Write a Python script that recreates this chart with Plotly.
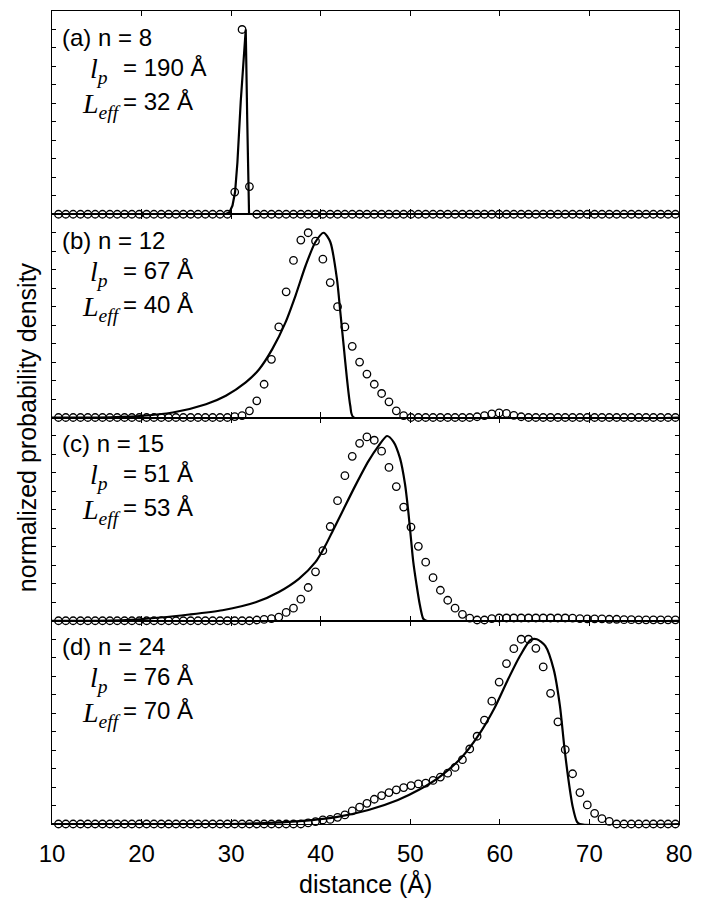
import plotly.graph_objects as go
from plotly.subplots import make_subplots

# ---------------- data ----------------
distance = [9.90, 10.72, 11.54, 12.36, 13.18, 14.00, 14.82, 15.64, 16.46, 17.28,
            18.10, 18.92, 19.74, 20.56, 21.38, 22.20, 23.02, 23.84, 24.66, 25.48,
            26.30, 27.12, 27.94, 28.76, 29.58, 30.40, 31.22, 32.04, 32.86, 33.68,
            34.50, 35.32, 36.14, 36.96, 37.78, 38.60, 39.42, 40.24, 41.06, 41.88,
            42.70, 43.52, 44.34, 45.16, 45.98, 46.80, 47.62, 48.44, 49.26, 50.08,
            50.90, 51.72, 52.54, 53.36, 54.18, 55.00, 55.82, 56.64, 57.46, 58.28,
            59.10, 59.92, 60.74, 61.56, 62.38, 63.20, 64.02, 64.84, 65.66, 66.48,
            67.30, 68.12, 68.94, 69.76, 70.58, 71.40, 72.22, 73.04, 73.86, 74.68,
            75.50, 76.32, 77.14, 77.96, 78.78, 79.60]

sim_a = [0, 0, 0, 0, 0, 0, 0, 0, 0, 0,
         0, 0, 0, 0, 0, 0, 0, 0, 0, 0,
         0, 0, 0, 0, 0, 0.12, 1.0, 0.15, 0, 0,
         0, 0, 0, 0, 0, 0, 0, 0, 0, 0,
         0, 0, 0, 0, 0, 0, 0, 0, 0, 0,
         0, 0, 0, 0, 0, 0, 0, 0, 0, 0,
         0, 0, 0, 0, 0, 0, 0, 0, 0, 0,
         0, 0, 0, 0, 0, 0, 0, 0, 0, 0,
         0, 0, 0, 0, 0, 0]

sim_b = [0, 0, 0, 0, 0, 0, 0, 0, 0, 0,
         0, 0, 0, 0, 0, 0, 0, 0, 0, 0,
         0, 0, 0, 0, 0, 0.005, 0.01, 0.036, 0.09, 0.18,
         0.315, 0.49, 0.68, 0.85, 0.96, 1.0, 0.955, 0.857, 0.73, 0.60,
         0.49, 0.385, 0.30, 0.235, 0.18, 0.13, 0.085, 0.036, 0.01, 0,
         0, 0, 0, 0, 0, 0, 0, 0, 0.004, 0.01,
         0.02, 0.025, 0.022, 0.012, 0.004, 0, 0, 0, 0, 0,
         0, 0, 0, 0, 0, 0, 0, 0, 0, 0,
         0, 0, 0, 0, 0, 0]

sim_c = [0, 0, 0, 0, 0, 0, 0, 0, 0, 0,
         0, 0, 0, 0, 0, 0, 0, 0, 0, 0,
         0, 0, 0, 0, 0, 0, 0, 0, 0.004, 0.007,
         0.012, 0.02, 0.045, 0.068, 0.117, 0.18, 0.265, 0.38, 0.51, 0.65,
         0.785, 0.89, 0.96, 0.995, 0.977, 0.918, 0.83, 0.726, 0.615, 0.507,
         0.403, 0.317, 0.233, 0.165, 0.111, 0.068, 0.035, 0.014, 0.004, 0.004,
         0.012, 0.015, 0.015, 0.015, 0.015, 0.015, 0.015, 0.015, 0.015, 0.015,
         0.015, 0.014, 0.012, 0.01, 0.01, 0.01, 0.008, 0.008, 0.006, 0.006,
         0.005, 0.005, 0.005, 0.005, 0.005, 0.005]

sim_d = [0, 0, 0, 0, 0, 0, 0, 0, 0, 0,
         0, 0, 0, 0, 0, 0, 0, 0, 0, 0,
         0, 0, 0, 0, 0, 0, 0, 0, 0, 0,
         0, 0, 0, 0, 0, 0.006, 0.013, 0.022, 0.025, 0.036,
         0.049, 0.071, 0.091, 0.112, 0.134, 0.154, 0.170, 0.185, 0.197, 0.208,
         0.217, 0.221, 0.236, 0.254, 0.275, 0.306, 0.348, 0.406, 0.475, 0.562,
         0.665, 0.768, 0.868, 0.949, 1.0, 1.0, 0.951, 0.85, 0.707, 0.553,
         0.402, 0.272, 0.170, 0.103, 0.058, 0.029, 0.014, 0, 0, 0,
         0, 0, 0, 0, 0, 0]

model_a_x = [10, 29.3, 29.8, 30.15, 30.44, 30.7, 31.07, 31.44, 31.63, 31.8, 32.0, 80]
model_a_y = [0, 0, 0.01, 0.047, 0.12, 0.28, 0.61, 0.88, 1.0, 0.5, 0, 0]

model_b_x = [10, 15, 19.78, 23.48, 27.19, 29.41, 31.63, 33.11, 34.59, 36.07, 37.19,
             38.3, 39.41, 40.33, 41.07, 41.81, 42.19, 42.56, 42.93, 43.3, 43.67, 80]
model_b_y = [0, 0, 0.008, 0.027, 0.072, 0.118, 0.19, 0.26, 0.37, 0.515, 0.66,
             0.82, 0.95, 1.0, 0.95, 0.75, 0.57, 0.39, 0.21, 0.064, 0, 0]

model_c_x = [10, 15, 19.78, 25.33, 29.04, 32.74, 35.33, 37.56, 39.41, 40.52, 41.26,
             42.37, 43.85, 45.33, 46.44, 47.4, 48.11, 48.85, 49.41, 49.78, 50.07,
             50.33, 50.7, 51.07, 51.44, 51.8, 80]
model_c_y = [0, 0, 0.008, 0.034, 0.057, 0.10, 0.156, 0.227, 0.317, 0.407, 0.478,
             0.586, 0.73, 0.864, 0.945, 1.0, 0.97, 0.88, 0.74, 0.59, 0.447,
             0.32, 0.194, 0.085, 0.012, 0, 0]

model_d_x = [10, 29.8, 33.0, 36.87, 41.57, 45.33, 48.62, 50.97, 53.32, 55.67, 57.55,
             59.42, 60.83, 62.24, 63.42, 64.13, 65.07, 66.01, 66.71, 67.19, 67.66,
             68.13, 68.6, 68.92, 80]
model_d_y = [0, 0, 0.004, 0.013, 0.036, 0.076, 0.13, 0.185, 0.257, 0.357, 0.475,
             0.629, 0.774, 0.909, 0.996, 1.0, 0.964, 0.837, 0.638, 0.42, 0.239,
             0.094, 0.013, 0, 0]

panel_tags = ["(a) n = 8", "(b) n = 12", "(c) n = 15", "(d) n = 24"]
lp_values = ["190 Å", "67 Å", "51 Å", "76 Å"]
leff_values = ["32 Å", "40 Å", "53 Å", "70 Å"]
x_ticks = [10, 20, 30, 40, 50, 60, 70, 80]

sims = [sim_a, sim_b, sim_c, sim_d]
models = [(model_a_x, model_a_y), (model_b_x, model_b_y),
          (model_c_x, model_c_y), (model_d_x, model_d_y)]
shapes_kind = ["linear", "spline", "spline", "spline"]

# ---------------- figure ----------------
W, H = 702, 913
ML, MR, MT, MB = 52, 20, 10, 89
fig = make_subplots(rows=4, cols=1, shared_xaxes=True, vertical_spacing=0)

SANS = "Liberation Sans, Arial, Helvetica, sans-serif"
SERIF = "Liberation Serif, Times New Roman, serif"

for k in range(4):
    r = k + 1
    fig.add_trace(go.Scatter(
        x=distance, y=sims[k], mode="markers", cliponaxis=False,
        marker=dict(symbol="circle-open", size=7.5, color="black",
                    line=dict(color="black", width=1.3)),
        showlegend=False), row=r, col=1)
    mx, my = models[k]
    fig.add_trace(go.Scatter(
        x=mx, y=my, mode="lines",
        line=dict(color="black", width=2.2, shape=shapes_kind[k], smoothing=0.7),
        showlegend=False), row=r, col=1)

axis_common = dict(showline=True, linecolor="black", linewidth=1.4,
                   mirror="ticks", ticks="inside", tickcolor="black",
                   showgrid=False, zeroline=False)

for k in range(4):
    r = k + 1
    fig.update_xaxes(range=[10, 80], tickvals=x_ticks, ticklen=5, tickwidth=1.2,
                     showticklabels=(r == 4),
                     tickfont=dict(family=SANS, size=24, color="black"),
                     ticklabelstandoff=8,
                     row=r, col=1, **axis_common)
    fig.update_yaxes(range=[0, 1.1], tick0=0, dtick=0.1, ticklen=4, tickwidth=1.1,
                     showticklabels=False, row=r, col=1, **axis_common)

annotations = []
for k in range(4):
    yref = "y domain" if k == 0 else f"y{k+1} domain"
    xref = "x domain" if k == 0 else f"x{k+1} domain"
    base = dict(xref=xref, yref=yref, x=0, y=1, showarrow=False, yanchor="middle")
    annotations.append(dict(base, text=panel_tags[k], xanchor="left",
                            xshift=8, yshift=-26,
                            font=dict(family=SANS, size=24, color="black")))
    annotations.append(dict(base, text="<i>l</i><sub><i>p</i></sub>", xanchor="right",
                            xshift=58, yshift=-59,
                            font=dict(family=SERIF, size=28, color="black")))
    annotations.append(dict(base, text="= " + lp_values[k], xanchor="left",
                            xshift=69, yshift=-56,
                            font=dict(family=SANS, size=24, color="black")))
    annotations.append(dict(base, text="<i>L</i><sub><i>eff</i></sub>", xanchor="right",
                            xshift=71, yshift=-94,
                            font=dict(family=SERIF, size=28, color="black")))
    annotations.append(dict(base, text="= " + leff_values[k], xanchor="left",
                            xshift=69, yshift=-90,
                            font=dict(family=SANS, size=24, color="black")))

annotations.append(dict(xref="paper", yref="paper", x=0.5, y=0, yshift=-59,
                        xanchor="center", yanchor="middle", showarrow=False,
                        text="distance (Å)",
                        font=dict(family=SANS, size=25, color="black")))
annotations.append(dict(xref="paper", yref="paper", x=0, y=0.488, xshift=-25,
                        xanchor="center", yanchor="middle", showarrow=False,
                        textangle=-90, text="normalized probability density",
                        font=dict(family=SANS, size=25, color="black")))

fig.update_layout(width=W, height=H,
                  margin=dict(l=ML, r=MR, t=MT, b=MB, pad=0),
                  paper_bgcolor="white", plot_bgcolor="white",
                  annotations=annotations, showlegend=False)

fig.write_html("out.html",
               config={"displayModeBar": False},
               post_script="document.body.style.margin='0';document.body.style.overflow='hidden';")
